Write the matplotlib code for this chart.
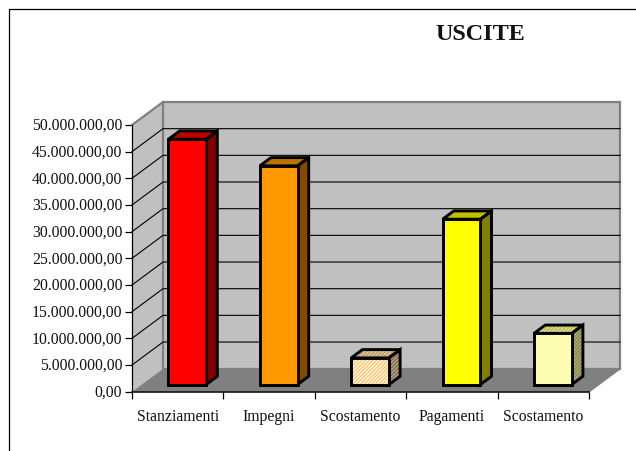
import matplotlib
matplotlib.use("Agg")
import matplotlib.pyplot as plt
from matplotlib.patches import Polygon
from matplotlib.transforms import IdentityTransform, ScaledTranslation

categories = ["Stanziamenti", "Impegni", "Scostamento", "Pagamenti", "Scostamento"]
values = [46000000, 41000000, 5000000, 31000000, 9600000]
y_ticks = list(range(0, 50000001, 5000000))
title = "USCITE"

front_colors = ["#ff0000", "#ff9900", "#fff4e0", "#ffff00", "#ffffe0"]
top_colors = ["#c00000", "#c07300", "#e0c8a0", "#c0c000", "#dcdc98"]
side_colors = ["#800000", "#804d00", "#b0a080", "#808000", "#a8a878"]
front_hatch = [None, None, "#ffb84d", None, "#ffff66"]
top_hatch = [None, None, "#b08850", None, "#b0b040"]
side_hatch = [None, None, "#806040", None, "#808040"]

W, H = 636, 452
DX, DY = 31, 23  # depth of the fake 3d box, pixels
BAR_W = 0.412
D0, D1 = 0.31, 0.67

plt.rcParams["font.family"] = ["Liberation Serif", "DejaVu Serif"]
plt.rcParams["hatch.linewidth"] = 0.7

fig = plt.figure(figsize=(W / 100, H / 100), dpi=100)
ax = fig.add_axes([132 / W, (H - 392.7) / H, 457 / W, 266.7 / H])
ax.set_xlim(0, len(categories))
ax.set_ylim(0, 50000000)
ax.patch.set_visible(False)


def pt(x, y, d=0.0):
    px, py = ax.transData.transform((x, y))
    return (px + d * DX, py + d * DY)


def poly(points, **kw):
    kw.setdefault("linewidth", 0)
    kw.setdefault("joinstyle", "miter")
    p = Polygon(points, closed=True, transform=IdentityTransform(), clip_on=False, **kw)
    ax.add_patch(p)


def face(points, color, hatch_color, z):
    poly(points, facecolor=color, zorder=z)
    if hatch_color:
        poly(points, facecolor="none", edgecolor=hatch_color, hatch="/////////", zorder=z)
    poly(points, facecolor="none", edgecolor="black", linewidth=2.1, zorder=z + 0.1)


x_max = len(categories)
y_max = y_ticks[-1]

# walls and floor
poly([pt(0, 0), pt(0, y_max), pt(0, y_max, 1), pt(0, 0, 1)], facecolor="#c0c0c0", zorder=1)
poly([pt(0, 0, 1), pt(0, y_max, 1), pt(x_max, y_max, 1), pt(x_max, 0, 1)],
     facecolor="#c0c0c0", edgecolor="#808080", linewidth=1.6, zorder=1)
poly([pt(0, 0), pt(0, 0, 1), pt(x_max, 0, 1), pt(x_max, 0)], facecolor="#808080", zorder=1.5)
ax.plot(*zip(pt(0, y_max), pt(0, y_max, 1)), transform=IdentityTransform(), color="#808080",
        lw=1.6, clip_on=False, zorder=2)
ax.plot(*zip(pt(x_max, 0), pt(x_max, 0, 1)), transform=IdentityTransform(), color="#808080",
        lw=1.2, clip_on=False, zorder=2)

# gridlines run across the left wall then the back wall
for tick in y_ticks[1:-1]:
    ax.plot(*zip(pt(0, tick), pt(0, tick, 1), pt(x_max, tick, 1)), transform=IdentityTransform(),
            color="black", lw=0.8, clip_on=False, zorder=3)

for i, val in enumerate(values):
    x0 = i + 0.5 - BAR_W / 2
    x1 = i + 0.5 + BAR_W / 2
    face([pt(x1, 0, D0), pt(x1, val, D0), pt(x1, val, D1), pt(x1, 0, D1)],
         side_colors[i], side_hatch[i], 4 + i)
    face([pt(x0, val, D0), pt(x1, val, D0), pt(x1, val, D1), pt(x0, val, D1)],
         top_colors[i], top_hatch[i], 4 + i)
    face([pt(x0, 0, D0), pt(x1, 0, D0), pt(x1, val, D0), pt(x0, val, D0)],
         front_colors[i], front_hatch[i], 4.3 + i)

for name in ["top", "right"]:
    ax.spines[name].set_visible(False)
ax.spines["left"].set_linewidth(0.9)
ax.spines["bottom"].set_linewidth(1.1)

ax.set_yticks(y_ticks)
ax.set_yticklabels([f"{v:,.2f}".replace(",", "#").replace(".", ",").replace("#", ".") for v in y_ticks],
                   fontsize=11.3, color="#111111")
ax.set_xticks(range(x_max + 1))
ax.set_xticklabels([])
ax.set_xticks([i + 0.5 for i in range(x_max)], minor=True)
ax.set_xticklabels(categories, minor=True, fontsize=11.3, color="#111111")
ax.tick_params(axis="y", length=5, width=0.9, pad=2)
ax.tick_params(axis="x", which="major", length=5, width=0.9)
ax.tick_params(axis="x", which="minor", length=0, pad=12)

# labels sit a little above their ticks in the original
for label in ax.get_yticklabels():
    label.set_transform(label.get_transform() + ScaledTranslation(0, 2 / 100, fig.dpi_scale_trans))

# outer chart border, only top and left show
fig.add_artist(plt.Line2D([9 / W, 9 / W, 1], [0, 1 - 10 / H, 1 - 10 / H], color="black", lw=0.9))
fig.text(480 / W, 1 - 35 / H, title, fontsize=17.4, fontweight="bold", ha="center", va="center",
         color="#111111")

fig.savefig("out.png", dpi=100)
plt.close(fig)
